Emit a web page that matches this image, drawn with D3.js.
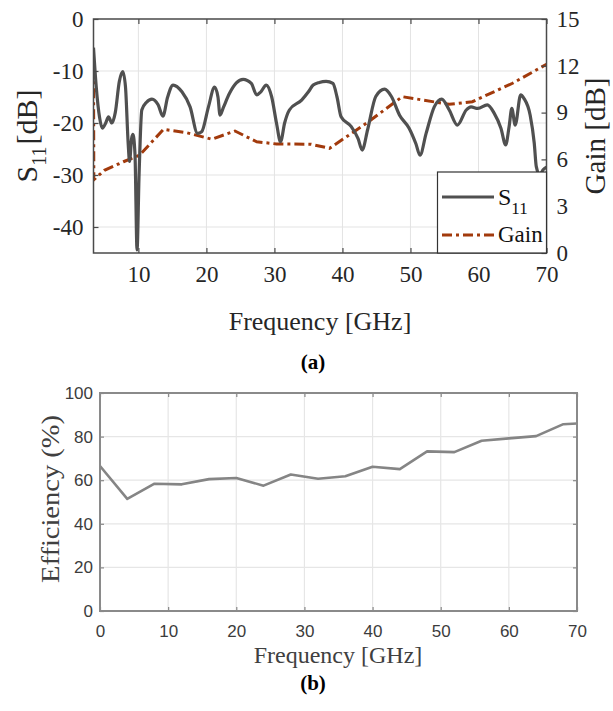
<!DOCTYPE html>
<html><head><meta charset="utf-8">
<script src="https://cdn.jsdelivr.net/npm/d3@7"></script>
<style>html,body{margin:0;padding:0;background:#fff;}svg{display:block;}</style>
</head><body>
<script>
// ---------- data ----------
const s11Freq = [3.4,3.8,4.3,4.7,5.2,5.6,6.1,6.6,7.2,7.7,8.1,8.5,8.7,9.0,9.2,9.5,9.8,10.1,10.5,11.2,12.0,12.9,13.6,14.3,15.1,16.4,17.6,18.7,19.3,20.3,21.2,21.7,22.0,22.5,23.4,24.4,25.4,26.6,27.4,28.0,28.8,29.6,30.3,30.9,31.5,32.2,34.0,35.0,35.7,36.6,37.6,38.6,39.2,39.8,41.3,42.3,42.9,43.7,44.9,46.2,47.2,48.4,49.8,50.8,51.4,52.3,53.5,54.6,55.7,56.9,58.2,58.9,59.9,61.3,62.3,63.3,64.0,64.5,64.9,65.4,66.2,66.7,67.6,68.2,68.5,69.0,69.5,70.0];
const s11Values = [-5.5,-13,-19,-21,-20,-18.8,-20,-18,-12,-10.1,-13,-24,-27.4,-23,-22.2,-26,-44.4,-30,-17.5,-16,-15.4,-16.5,-18.7,-15,-12.7,-14,-16.9,-22,-21.7,-16.9,-13.1,-15,-18.5,-17,-14.3,-12.3,-11.6,-12.4,-14.6,-14,-12.7,-15,-20,-23.6,-20,-17.5,-15.6,-14,-12.7,-12.2,-12,-12.4,-15,-18.8,-20.7,-23,-25.2,-21.3,-14.9,-13.5,-14.9,-18.5,-21,-24,-26.2,-22,-16.9,-15.4,-17.5,-20.4,-17.5,-16.9,-17.2,-16.5,-18.1,-21,-24.2,-20.7,-17.2,-20.4,-14.6,-15.3,-18.5,-23.9,-28.4,-30,-29,-28.5];
const gainFreq = [3.4,3.45,5.0,7.8,10.2,13.7,17.1,20.8,24.2,27.4,30.3,35.4,38.1,43.5,48.8,55.7,59.1,65.0,70.0];
const gainValues = [11.9,4.7,5.3,5.85,6.28,7.93,7.71,7.29,7.82,7.13,6.99,6.97,6.71,8.31,10.02,9.53,9.7,10.88,12.1];
const topXTicks = [10,20,30,40,50,60,70];
const topYLeftTicks = [0,-10,-20,-30,-40];
const topYRightTicks = [0,3,6,9,12,15];

const effFreq = [0,4,8,12,16,20,24,28,32,36,40,44,48,52,56,60,64,68,70];
const effValues = [66.5,51.4,58.4,58.1,60.5,61,57.5,62.6,60.7,61.8,66.2,65.1,73.2,72.9,78.1,79.2,80.2,85.7,86];
const botXTicks = [0,10,20,30,40,50,60,70];
const botYTicks = [0,20,40,60,80,100];

// ---------- setup ----------
const W = 613, H = 711;
const svg = d3.select("body").append("svg").attr("width", W).attr("height", H);
const serif = "'Liberation Serif','Times New Roman',serif";
const sans = "'Liberation Sans',Arial,sans-serif";

// ===== Top chart =====
const T = {l: 93.5, r: 546.5, t: 19, b: 253};
const x1 = d3.scaleLinear().domain([3.4, 70]).range([T.l, T.r]);
const yL = d3.scaleLinear().domain([-45, 0]).range([T.b, T.t]);
const yR = d3.scaleLinear().domain([0, 15]).range([T.b, T.t]);

const g1 = svg.append("g");
svg.append("defs").append("clipPath").attr("id", "clipTop")
  .append("rect").attr("x", T.l).attr("y", T.t).attr("width", T.r - T.l).attr("height", T.b - T.t);

// grid
g1.append("g").selectAll("line").data(topXTicks.filter(d => d < 70)).join("line")
  .attr("x1", d => x1(d)).attr("x2", d => x1(d)).attr("y1", T.t).attr("y2", T.b)
  .attr("stroke", "#e3e3e3").attr("stroke-width", 1);
g1.append("g").selectAll("line").data(topYLeftTicks.filter(d => d < 0)).join("line")
  .attr("y1", d => yL(d)).attr("y2", d => yL(d)).attr("x1", T.l).attr("x2", T.r)
  .attr("stroke", "#e3e3e3").attr("stroke-width", 1);

// lines
const clipG = g1.append("g").attr("clip-path", "url(#clipTop)");
const s11Data = s11Freq.map((f, i) => [f, s11Values[i]]);
const gainData = gainFreq.map((f, i) => [f, gainValues[i]]);
clipG.append("path").datum(gainData)
  .attr("d", d3.line().x(d => x1(d[0])).y(d => yR(d[1])))
  .attr("fill", "none").attr("stroke", "#a23a0c").attr("stroke-width", 3)
  .attr("stroke-dasharray", "10,4,3,4");
clipG.append("path").datum(s11Data)
  .attr("d", d3.line().x(d => x1(d[0])).y(d => yL(d[1])).curve(d3.curveMonotoneX))
  .attr("fill", "none").attr("stroke", "#505050").attr("stroke-width", 3.2)
  .attr("stroke-linejoin", "round");

// axes
function styleAxis(sel, font, size, color, lineColor) {
  sel.select(".domain").remove();
  sel.selectAll(".tick line").attr("stroke", lineColor).attr("stroke-width", 1.2);
  sel.selectAll(".tick text").attr("font-family", font).attr("font-size", size).attr("fill", color);
}
const axB = g1.append("g").attr("transform", `translate(0,${T.b})`)
  .call(d3.axisBottom(x1).tickValues(topXTicks).tickSize(-5).tickSizeOuter(0).tickPadding(13).tickFormat(d3.format("d")));
styleAxis(axB, serif, 23, "#262626", "#4a4a4a");
const axT = g1.append("g").attr("transform", `translate(0,${T.t})`)
  .call(d3.axisTop(x1).tickValues(topXTicks).tickSize(-5).tickSizeOuter(0).tickFormat(""));
styleAxis(axT, serif, 23, "#262626", "#4a4a4a");
const axL = g1.append("g").attr("transform", `translate(${T.l},0)`)
  .call(d3.axisLeft(yL).tickValues(topYLeftTicks).tickSize(-5).tickSizeOuter(0).tickPadding(10).tickFormat(d3.format("d")));
styleAxis(axL, serif, 23, "#262626", "#4a4a4a");
axL.selectAll(".tick text").text(d => d < 0 ? "-" + Math.abs(d) : d);
const axR = g1.append("g").attr("transform", `translate(${T.r},0)`)
  .call(d3.axisRight(yR).tickValues(topYRightTicks).tickSize(-5).tickSizeOuter(0).tickPadding(10).tickFormat(d3.format("d")));
styleAxis(axR, serif, 23, "#262626", "#4a4a4a");

g1.append("rect").attr("x", T.l).attr("y", T.t).attr("width", T.r - T.l).attr("height", T.b - T.t)
  .attr("fill", "none").attr("stroke", "#4a4a4a").attr("stroke-width", 1.5);

// legend
const lg = g1.append("g");
lg.append("rect").attr("x", 437.5).attr("y", 172).attr("width", T.r - 437.5).attr("height", T.b - 172)
  .attr("fill", "#fff").attr("stroke", "#333").attr("stroke-width", 1.2);
lg.append("line").attr("x1", 442).attr("x2", 494).attr("y1", 197).attr("y2", 197)
  .attr("stroke", "#505050").attr("stroke-width", 3.2);
lg.append("line").attr("x1", 442).attr("x2", 494).attr("y1", 235).attr("y2", 235)
  .attr("stroke", "#a23a0c").attr("stroke-width", 3).attr("stroke-dasharray", "10,4,3,4");
const lt1 = lg.append("text").attr("x", 498).attr("y", 205).attr("font-family", serif).attr("font-size", 24).attr("fill", "#111");
lt1.append("tspan").text("S");
lt1.append("tspan").attr("font-size", 17).attr("dy", 9).text("11");
lg.append("text").attr("x", 498).attr("y", 242).attr("font-family", serif).attr("font-size", 23).attr("fill", "#111").text("Gain");

// axis titles
g1.append("text").attr("x", 320).attr("y", 330).attr("text-anchor", "middle")
  .attr("font-family", serif).attr("font-size", 26).attr("fill", "#262626").text("Frequency [GHz]");
const yl1 = g1.append("text").attr("transform", "translate(37,136) rotate(-90)").attr("text-anchor", "middle")
  .attr("font-family", serif).attr("font-size", 30).attr("fill", "#262626");
yl1.append("tspan").text("S");
yl1.append("tspan").attr("font-size", 20).attr("dy", 9).text("11");
yl1.append("tspan").attr("dy", -9).attr("dx", 2).text("[dB]");
g1.append("text").attr("transform", "translate(605,136) rotate(-90)").attr("text-anchor", "middle")
  .attr("font-family", serif).attr("font-size", 29).attr("fill", "#262626").text("Gain [dB]");

g1.append("text").attr("x", 313).attr("y", 369).attr("text-anchor", "middle")
  .attr("font-family", serif).attr("font-weight", "bold").attr("font-size", 21).attr("fill", "#000").text("(a)");

// ===== Bottom chart =====
const B = {l: 100, r: 577, t: 393, b: 611};
const x2 = d3.scaleLinear().domain([0, 70]).range([B.l, B.r]);
const y2 = d3.scaleLinear().domain([0, 100]).range([B.b, B.t]);
const g2 = svg.append("g");

g2.append("g").selectAll("line").data(botXTicks.filter(d => d > 0 && d < 70)).join("line")
  .attr("x1", d => x2(d)).attr("x2", d => x2(d)).attr("y1", B.t).attr("y2", B.b)
  .attr("stroke", "#e6e6e6").attr("stroke-width", 1.2);
g2.append("g").selectAll("line").data(botYTicks.filter(d => d > 0 && d < 100)).join("line")
  .attr("y1", d => y2(d)).attr("y2", d => y2(d)).attr("x1", B.l).attr("x2", B.r)
  .attr("stroke", "#e6e6e6").attr("stroke-width", 1.2);

const effData = effFreq.map((f, i) => [f, effValues[i]]);
g2.append("path").datum(effData)
  .attr("d", d3.line().x(d => x2(d[0])).y(d => y2(d[1])))
  .attr("fill", "none").attr("stroke", "#858585").attr("stroke-width", 2.6).attr("stroke-linejoin", "round");

const bAx = g2.append("g").attr("transform", `translate(0,${B.b})`)
  .call(d3.axisBottom(x2).tickValues(botXTicks).tickSize(-4).tickSizeOuter(0).tickPadding(14));
styleAxis(bAx, sans, 17, "#3c3c3c", "#888");
const tAx = g2.append("g").attr("transform", `translate(0,${B.t})`)
  .call(d3.axisTop(x2).tickValues(botXTicks).tickSize(-4).tickSizeOuter(0).tickFormat(""));
styleAxis(tAx, sans, 17, "#3c3c3c", "#888");
const lAx = g2.append("g").attr("transform", `translate(${B.l},0)`)
  .call(d3.axisLeft(y2).tickValues(botYTicks).tickSize(-4).tickSizeOuter(0).tickPadding(7));
styleAxis(lAx, sans, 17, "#3c3c3c", "#888");
const rAx = g2.append("g").attr("transform", `translate(${B.r},0)`)
  .call(d3.axisRight(y2).tickValues(botYTicks).tickSize(-4).tickSizeOuter(0).tickFormat(""));
styleAxis(rAx, sans, 17, "#3c3c3c", "#888");

g2.append("rect").attr("x", B.l).attr("y", B.t).attr("width", B.r - B.l).attr("height", B.b - B.t)
  .attr("fill", "none").attr("stroke", "#8a8a8a").attr("stroke-width", 2);

g2.append("text").attr("x", 338).attr("y", 663).attr("text-anchor", "middle")
  .attr("font-family", serif).attr("font-size", 24).attr("fill", "#404040").text("Frequency [GHz]");
g2.append("text").attr("transform", "translate(59,499) rotate(-90)").attr("text-anchor", "middle")
  .attr("font-family", serif).attr("font-size", 25).attr("fill", "#404040")
  .attr("textLength", 168).attr("lengthAdjust", "spacingAndGlyphs").text("Efficiency (%)");
g2.append("text").attr("x", 313).attr("y", 690).attr("text-anchor", "middle")
  .attr("font-family", serif).attr("font-weight", "bold").attr("font-size", 21).attr("fill", "#000").text("(b)");
</script>
</body></html>
